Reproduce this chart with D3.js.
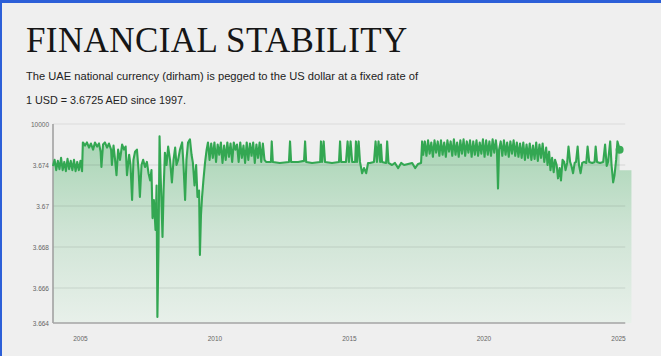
<!DOCTYPE html>
<html>
<head>
<meta charset="utf-8">
<script src="https://cdn.jsdelivr.net/npm/d3@7"></script>
<style>
  html, body { margin: 0; padding: 0; background: #efefef; }
  svg { display: block; }
</style>
</head>
<body>
<svg id="chart" width="661" height="356"></svg>
<script>
// Section: data
var titleText = 'FINANCIAL STABILITY';
var subtitleLines = [
    'The UAE national currency (dirham) is pegged to the US dollar at a fixed rate of',
    '1 USD = 3.6725 AED since 1997.'
];

// y ticks as printed on the chart (the labels are odd, kept as they are)
var yTickValues = [3.664, 3.666, 3.668, 3.670, 3.672, 3.674];
var yTickLabels = ['3.664', '3.666', '3.668', '3.67', '3.674', '10000'];
var xTickValues = [2005, 2010, 2015, 2020, 2025];

// [decimal year, AED per USD]
var series = [
    [2004.00,3.67195],[2004.06,3.67225],[2004.12,3.67175],[2004.18,3.6722],[2004.24,3.6718],
    [2004.30,3.67235],[2004.36,3.67175],[2004.42,3.67215],[2004.48,3.6717],[2004.54,3.6723],
    [2004.60,3.6718],[2004.66,3.6722],[2004.72,3.67175],[2004.78,3.67225],[2004.84,3.6717],
    [2004.90,3.67215],[2004.96,3.67175],[2005.02,3.6722],[2005.08,3.6717],[2005.11,3.6731],
    [2005.12,3.6731],[2005.19,3.67295],[2005.26,3.6731],[2005.34,3.67285],[2005.41,3.67305],
    [2005.49,3.67275],[2005.56,3.6731],[2005.64,3.6729],[2005.71,3.67305],[2005.77,3.67265],
    [2005.80,3.6719],[2005.86,3.673],[2005.93,3.6731],[2006.01,3.67285],[2006.08,3.67305],
    [2006.16,3.67275],[2006.19,3.672],[2006.25,3.67295],
    [2006.30,3.67235],[2006.36,3.6715],[2006.42,3.67275],[2006.49,3.67225],[2006.57,3.673],
    [2006.64,3.67275],[2006.70,3.6729],[2006.75,3.6715],[2006.83,3.6725],[2006.88,3.672],
    [2006.94,3.67029],[2006.99,3.67225],[2007.05,3.67265],[2007.12,3.67275],[2007.18,3.67175],
    [2007.23,3.67044],[2007.29,3.672],[2007.35,3.67225],[2007.42,3.6719],[2007.49,3.67215],
    [2007.55,3.6716],[2007.61,3.67125],[2007.66,3.67175],[2007.70,3.66941],[2007.75,3.67029],
    [2007.81,3.66883],[2007.85,3.671],[2007.88,3.66434],
    [2007.92,3.66785],[2007.96,3.6734],[2008.00,3.6715],[2008.03,3.67029],[2008.07,3.66849],
    [2008.11,3.67075],[2008.16,3.6726],[2008.22,3.672],[2008.28,3.6729],[2008.35,3.67225],
    [2008.42,3.67115],[2008.48,3.67225],[2008.54,3.67285],[2008.59,3.672],[2008.65,3.67225],
    [2008.72,3.67275],[2008.80,3.6731],[2008.85,3.672],[2008.91,3.67029],[2008.96,3.67225],
    [2009.02,3.6731],[2009.09,3.67325],[2009.15,3.6725],[2009.20,3.6721],[2009.26,3.671],
    [2009.32,3.672],[2009.37,3.67044],[2009.43,3.67075],[2009.46,3.66761],[2009.50,3.66956],
    [2009.54,3.67044],[2009.59,3.67125],[2009.65,3.6721],[2009.71,3.67275],[2009.76,3.6731],
    [2009.82,3.67225],[2009.88,3.67305],[2009.94,3.67235],[2010.00,3.6731],[2010.06,3.67215],
    [2010.12,3.673],[2010.18,3.6725],[2010.24,3.6731],[2010.30,3.6721],[2010.36,3.67295],
    [2010.42,3.67225],[2010.48,3.6731],[2010.54,3.6724],[2010.60,3.67305],[2010.66,3.67215],
    [2010.72,3.6731],[2010.78,3.67275],[2010.84,3.673],[2010.90,3.67215],[2010.96,3.6731],
    [2011.02,3.67235],[2011.08,3.67295],[2011.14,3.6721],[2011.20,3.6731],[2011.26,3.67225],
    [2011.32,3.67305],[2011.38,3.67245],[2011.44,3.6731],[2011.50,3.6721],[2011.56,3.673],
    [2011.62,3.67235],[2011.68,3.6731],[2011.74,3.67215],[2011.80,3.67305],[2011.86,3.67225],
    [2011.92,3.67215],
    [2011.95,3.67215],[2012.10,3.67215],[2012.13,3.67315],[2012.17,3.67215],[2012.43,3.6721],
    [2012.77,3.67215],[2012.81,3.67315],[2012.85,3.67215],[2013.11,3.67215],[2013.33,3.6722],
    [2013.37,3.67315],[2013.41,3.67215],[2013.63,3.6721],[2013.93,3.67215],[2013.96,3.67315],
    [2014.00,3.67215],[2014.06,3.67315],[2014.11,3.67215],[2014.37,3.6721],[2014.63,3.67215],
    [2014.67,3.67315],[2014.71,3.67215],[2014.89,3.67215],[2014.95,3.67315],[2015.00,3.67215],
    [2015.06,3.67315],[2015.12,3.67215],[2015.23,3.67215],[2015.26,3.67315],[2015.30,3.67215],
    [2015.36,3.67315],[2015.41,3.67215],[2015.49,3.6716],[2015.56,3.67185],[2015.64,3.6716],
    [2015.71,3.6721],
    [2015.78,3.6721],[2015.93,3.67215],[2015.99,3.67315],[2016.04,3.67215],[2016.10,3.67315],
    [2016.16,3.67215],[2016.19,3.673],[2016.23,3.67215],[2016.38,3.6721],[2016.42,3.67315],
    [2016.47,3.6721],[2016.60,3.672],[2016.71,3.6721],[2016.83,3.67185],[2016.94,3.6721],
    [2017.05,3.672],[2017.20,3.67205],[2017.35,3.6721],[2017.46,3.67185],[2017.57,3.67205],
    [2017.68,3.6721],[2017.72,3.67315],
    [2017.76,3.6725],[2017.82,3.67315],[2017.88,3.67245],[2017.94,3.6732],[2018.00,3.67255],
    [2018.06,3.6731],[2018.12,3.6724],[2018.18,3.6732],[2018.24,3.6726],[2018.30,3.67315],
    [2018.36,3.67245],[2018.42,3.6732],[2018.48,3.6725],[2018.54,3.6731],[2018.60,3.6724],
    [2018.66,3.6732],[2018.72,3.67265],[2018.78,3.67315],[2018.84,3.67245],[2018.90,3.67325],
    [2018.96,3.6725],[2019.02,3.6731],[2019.08,3.6724],[2019.14,3.6732],[2019.20,3.67255],
    [2019.26,3.67325],[2019.32,3.67245],[2019.38,3.67315],[2019.44,3.6726],[2019.50,3.6732],
    [2019.56,3.6724],[2019.62,3.67315],[2019.68,3.6725],[2019.74,3.6732],[2019.80,3.67245],
    [2019.86,3.6731],[2019.92,3.67255],[2019.98,3.67325],[2020.04,3.6724],[2020.10,3.6732],
    [2020.16,3.6725],[2020.22,3.67315],[2020.28,3.67245],[2020.34,3.67325],[2020.40,3.6726],
    [2020.46,3.6732],[2020.50,3.67275],[2020.54,3.67085],[2020.58,3.67275],[2020.64,3.67315],
    [2020.70,3.67245],[2020.76,3.6732],[2020.82,3.6725],[2020.88,3.6731],[2020.94,3.6724],
    [2021.00,3.67315],[2021.06,3.67255],[2021.12,3.6732],[2021.18,3.67245],[2021.24,3.6731],
    [2021.30,3.6724],[2021.36,3.67305],[2021.42,3.67235],[2021.48,3.6731],[2021.54,3.67225],
    [2021.60,3.673],[2021.66,3.67235],[2021.72,3.67305],[2021.78,3.67225],[2021.84,3.67295],
    [2021.90,3.6723],[2021.96,3.6731],[2022.02,3.6722],[2022.08,3.673],[2022.14,3.67235],
    [2022.20,3.67305],[2022.26,3.67215],
    [2022.33,3.67285],[2022.38,3.672],[2022.44,3.67265],[2022.49,3.67175],[2022.55,3.67235],
    [2022.61,3.67165],[2022.66,3.67225],[2022.72,3.672],[2022.77,3.67135],[2022.83,3.67185],
    [2022.88,3.67125],[2022.94,3.67225],[2023.00,3.67215],[2023.05,3.67175],[2023.11,3.6721],
    [2023.16,3.6729],[2023.22,3.67215],[2023.27,3.67195],[2023.33,3.6716],[2023.39,3.6721],
    [2023.44,3.67215],[2023.50,3.6729],[2023.55,3.672],[2023.61,3.6716],[2023.67,3.6721],
    [2023.74,3.67215],[2023.82,3.6721],[2023.87,3.6729],[2023.93,3.67215],[2024.04,3.6721],
    [2024.13,3.67215],[2024.17,3.6729],[2024.22,3.67215],[2024.33,3.6721],[2024.45,3.67215],
    [2024.52,3.673],[2024.58,3.67195],[2024.63,3.67215],[2024.71,3.67315],[2024.76,3.672],
    [2024.82,3.67115],[2024.87,3.6715],[2024.93,3.67225],[2024.98,3.67315],[2025.06,3.67275]
];
// the shaded area runs a little past the last point
var fillTail = [[2025.06, 3.67175], [2025.50, 3.67175]];

// Section: layout
var svg = d3.select('#chart');
var W = +svg.attr('width');
var H = +svg.attr('height');
var plot = {l: 53, r: 618, t: 124, b: 323};

svg.append('rect').attr('width', W).attr('height', H).attr('fill', '#efefef');
// blue frame edges
svg.append('rect').attr('width', W).attr('height', 3).attr('fill', '#2c5fd8');
svg.append('rect').attr('width', 2).attr('height', H).attr('fill', '#2c5fd8');

svg.append('text')
    .attr('x', 26).attr('y', 52)
    .attr('font-family', '"Liberation Serif", "DejaVu Serif", serif')
    .attr('font-size', 35)
    .attr('letter-spacing', 0.4)
    .attr('fill', '#161616')
    .text(titleText);

var subWidths = [392, 160];
svg.selectAll('.sub')
    .data(subtitleLines).enter()
    .append('text')
    .attr('class', 'sub')
    .attr('x', 26)
    .attr('y', (d, i) => 80 + i * 23.5)
    .attr('font-family', '"Liberation Sans", Arial, sans-serif')
    .attr('font-size', 11)
    .attr('fill', '#222')
    .attr('textLength', (d, i) => subWidths[i])
    .attr('lengthAdjust', 'spacingAndGlyphs')
    .text(d => d);

// Section: scales
var xScale = d3.scaleLinear().domain([2004, 2025]).range([plot.l, plot.r]);
// piecewise so each printed tick lands where it sits on the original
var yScale = d3.scaleLinear()
    .domain(yTickValues)
    .range([plot.b, 288, 247, 206, 165, plot.t]);

var gridEnd = xScale(2025.27);

// gradient for the area
var defs = svg.append('defs');
var grad = defs.append('linearGradient')
    .attr('id', 'fillGrad')
    .attr('gradientUnits', 'userSpaceOnUse')
    .attr('x1', 0).attr('x2', 0)
    .attr('y1', 140).attr('y2', plot.b);
grad.append('stop').attr('offset', 0).attr('stop-color', '#a9d5b5');
grad.append('stop').attr('offset', 0.5).attr('stop-color', '#cfe4d5');
grad.append('stop').attr('offset', 1).attr('stop-color', '#e8f0ea');

var area = d3.area()
    .x(d => xScale(d[0]))
    .y0(plot.b)
    .y1(d => yScale(d[1]));

svg.append('path')
    .datum(series.concat(fillTail))
    .attr('d', area)
    .attr('fill', 'url(#fillGrad)');

// gridlines
svg.selectAll('.grid')
    .data(yTickValues.slice(1)).enter()
    .append('line')
    .attr('class', 'grid')
    .attr('x1', plot.l).attr('x2', gridEnd)
    .attr('y1', d => yScale(d)).attr('y2', d => yScale(d))
    .attr('stroke', '#000')
    .attr('stroke-opacity', (d, i) => i === 4 ? 0.08 : 0.1)
    .attr('stroke-width', 1);

// axes
var yAxis = d3.axisLeft(yScale)
    .tickValues(yTickValues)
    .tickFormat((d, i) => yTickLabels[i])
    .tickSize(0).tickPadding(4);
var yG = svg.append('g')
    .attr('transform', 'translate(' + [plot.l, 0] + ')')
    .call(yAxis);

var xAxis = d3.axisBottom(xScale)
    .tickValues(xTickValues)
    .tickFormat(d3.format('d'))
    .tickSize(0).tickPadding(13);
var xG = svg.append('g')
    .attr('transform', 'translate(' + [0, plot.b] + ')')
    .call(xAxis);

yG.select('.domain').attr('stroke', '#9c9c9c').attr('stroke-width', 1.5)
    .attr('d', 'M0,' + plot.t + 'V' + plot.b);
xG.select('.domain').attr('stroke', '#a5a5a5').attr('stroke-width', 1.5)
    .attr('d', 'M' + plot.l + ',0H' + gridEnd);
svg.selectAll('.tick text')
    .attr('font-family', '"Liberation Sans", Arial, sans-serif')
    .attr('font-size', 6.5)
    .attr('fill', '#666');

// the rate line
var line = d3.line()
    .x(d => xScale(d[0]))
    .y(d => yScale(d[1]));

svg.append('path')
    .datum(series)
    .attr('d', line)
    .attr('fill', 'none')
    .attr('stroke', '#33a752')
    .attr('stroke-width', 2.1)
    .attr('stroke-linejoin', 'round');

var last = series[series.length - 1];
svg.append('circle')
    .attr('cx', xScale(last[0]))
    .attr('cy', yScale(last[1]))
    .attr('r', 4)
    .attr('fill', '#3aab57');
</script>
</body>
</html>
